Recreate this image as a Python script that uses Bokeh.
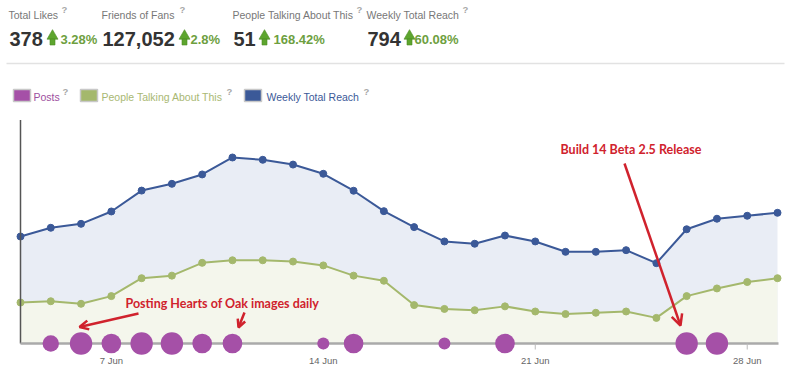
from bokeh.plotting import figure
from bokeh.models import Range1d, Arrow, OpenHead
from bokeh.core.properties import value
from bokeh.embed import file_html
from bokeh.resources import INLINE

# ---------------- data ----------------
days = [4, 5, 6, 7, 8, 9, 10, 11, 12, 13, 14, 15, 16, 17, 18, 19, 20, 21, 22, 23, 24, 25, 26, 27, 28, 29]
reach = [650, 703, 727, 802, 929, 970, 1027, 1130, 1116, 1087, 1031, 928, 804,
         707, 620, 606, 656, 620, 557, 557, 567, 488, 694, 758, 776, 794]
talking = [32, 33, 31, 37, 51, 53, 63, 65, 65, 64, 61, 53, 49,
           30, 27, 26, 29, 25, 23, 24, 25, 20, 37, 43, 48, 51]
posts = [0, 2, 4, 3, 4, 4, 3, 3, 0, 0, 1, 3, 0,
         0, 1, 0, 3, 0, 0, 0, 0, 0, 4, 4, 0, 0]
tick_days = [7, 14, 21, 28]
tick_labels = ["7 Jun", "14 Jun", "21 Jun", "28 Jun"]
kpi_names = ["Total Likes", "Friends of Fans", "People Talking About This", "Weekly Total Reach"]
kpi_values = ["378", "127,052", "51", "794"]
kpi_changes = ["3.28%", "2.8%", "168.42%", "60.08%"]
legend_names = ["Posts", "People Talking About This", "Weekly Total Reach"]
note_posts = "Posting Hearts of Oak images daily"
note_build = "Build 14 Beta 2.5 Release"

# ---------------- styles / layout ----------------
BLUE = "#3b5998"
BLUE_FILL = "#e9edf5"
GREEN = "#a4b86c"
GREEN_FILL = "#f4f6ec"
PURPLE = "#a550a7"
RED = "#d0222d"
UP = "#5da52e"
PCT = "#6e9f3f"

px_per_day = 30.28
x0_day = days[0] - 20 / px_per_day
reach_per_px = 6.075
talk_per_px = 0.781
base_px = 343

p = figure(width=791, height=379,
           x_range=Range1d(x0_day, x0_day + 791 / px_per_day),
           y_range=Range1d(379, 0),
           x_axis_type=None, y_axis_type=None,
           output_backend="svg", toolbar_location=None,
           min_border=0, outline_line_color=None,
           background_fill_color="white", border_fill_color="white")
p.extra_y_ranges = {
    "reach": Range1d(-(379 - base_px) * reach_per_px, base_px * reach_per_px),
    "talk": Range1d(-(379 - base_px) * talk_per_px, base_px * talk_per_px),
}
p.extra_x_ranges = {"px": Range1d(0, 791)}

# areas
p.varea(x=days, y1=[0] * len(days), y2=reach, y_range_name="reach", fill_color=BLUE_FILL)
p.varea(x=days, y1=[0] * len(days), y2=talking, y_range_name="talk", fill_color=GREEN_FILL)

# lines + markers
p.line(days, reach, y_range_name="reach", line_color=BLUE, line_width=2)
p.scatter(days, reach, y_range_name="reach", size=7, fill_color=BLUE, line_color=BLUE)
p.line(days, talking, y_range_name="talk", line_color=GREEN, line_width=2)
p.scatter(days, talking, y_range_name="talk", size=7, fill_color=GREEN, line_color=GREEN)

# axes (drawn)
p.segment(x0=[20], y0=[119.5], x1=[20], y1=[base_px], x_range_name="px",
          line_color="#555555", line_width=1.5)
p.segment(x0=[20], y0=[base_px], x1=[778], y1=[base_px], x_range_name="px",
          line_color="#aaaaaa", line_width=2.5)
p.segment(x0=tick_days, y0=[base_px] * 4, x1=tick_days, y1=[base_px + 6] * 4,
          line_color="#bbbbbb", line_width=1)
p.text(x=tick_days, y=[360] * 4, text=tick_labels, text_align="center",
       text_baseline="middle", text_font=value("Liberation Sans"),
       text_font_size="9.5px", text_color="#666666")

# posts bubbles
pd_x = [d for d, c in zip(days, posts) if c > 0]
pd_c = [c for c in posts if c > 0]
p.scatter(x=pd_x, y=[0] * len(pd_x), y_range_name="reach",
          size=[2 * 6 * c ** 0.45 for c in pd_c],
          fill_color=PURPLE, line_color=None)

# header KPIs
kpi_x = [8, 101, 232, 366]
kpi_q = [61, 179, 356, 462]
val_x = [9, 102, 233, 367]
arr_x = [52, 184, 264, 409]
chg_x = [60, 190, 273, 414]
p.text(x=kpi_x, y=[14] * 4, text=kpi_names, x_range_name="px", text_baseline="middle",
       text_font=value("Liberation Sans"), text_font_size="10.5px", text_color="#777777")
p.text(x=kpi_q, y=[9] * 4, text=["?"] * 4, x_range_name="px", text_baseline="middle",
       text_font=value("Liberation Sans"), text_font_size="9.5px", text_color="#a8a8a8",
       text_font_style="bold")
p.text(x=val_x, y=[38] * 4, text=kpi_values, x_range_name="px", text_baseline="middle",
       text_font=value("Liberation Sans"), text_font_size="20px", text_color="#333333",
       text_font_style="bold")
p.scatter(x=arr_x, y=[35.5] * 4, x_range_name="px", marker="triangle", size=11,
          fill_color=UP, line_color="#4a8a22", line_width=0.6)
p.rect(x=arr_x, y=[41.5] * 4, width=5, height=6, x_range_name="px",
       fill_color=UP, line_color="#4a8a22", line_width=0.6)
p.text(x=chg_x, y=[39] * 4, text=kpi_changes, x_range_name="px", text_baseline="middle",
       text_font=value("Liberation Sans"), text_font_size="13px", text_color=PCT,
       text_font_style="bold")

# separator
p.segment(x0=[6], y0=[63], x1=[784], y1=[63], x_range_name="px",
          line_color="#e2e2e2", line_width=1.5)

# legend
sw_x = [21.5, 88.5, 252.5]
lt_x = [33, 101, 266]
lq_x = [62, 226, 363]
p.rect(x=sw_x, y=[95] * 3, width=17, height=12, x_range_name="px",
       fill_color=[PURPLE, GREEN, BLUE], line_color="#c8c8c8", line_width=1.5)
p.text(x=lt_x, y=[96.5] * 3, text=legend_names, x_range_name="px", text_baseline="middle",
       text_font=value("Liberation Sans"), text_font_size="10.5px",
       text_color=["#9d4f9e", "#a9b873", BLUE])
p.text(x=lq_x, y=[91] * 3, text=["?"] * 3, x_range_name="px", text_baseline="middle",
       text_font=value("Liberation Sans"), text_font_size="9.5px", text_color="#a8a8a8",
       text_font_style="bold")

# annotations
p.text(x=[125], y=[302.5], text=[note_posts], x_range_name="px", text_baseline="middle",
       text_font=value("Lato"), text_font_size="12.5px", text_font_style="bold",
       text_color=RED)
p.text(x=[560], y=[149], text=[note_build], x_range_name="px", text_baseline="middle",
       text_font=value("Lato"), text_font_size="12.5px", text_font_style="bold",
       text_color=RED)
for xs, ys, xe, ye, hs in [(138, 313, 79, 326.5, 9), (244, 312, 238, 327, 8), (624, 163, 680, 325, 11)]:
    p.add_layout(Arrow(x_start=xs, y_start=ys, x_end=xe, y_end=ye, x_range_name="px",
                       line_color=RED, line_width=2.5,
                       end=OpenHead(size=hs, line_color=RED, line_width=2.5)))

open("out.html", "w").write(file_html(p, INLINE))
